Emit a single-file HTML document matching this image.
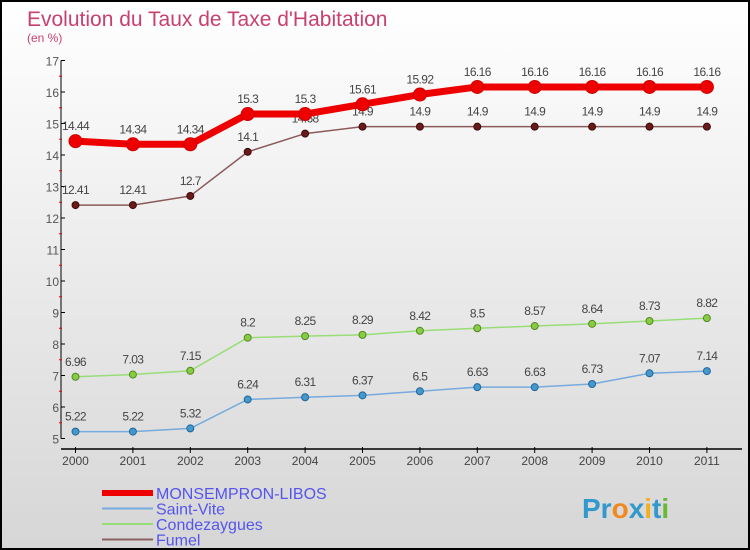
<!DOCTYPE html>
<html><head><meta charset="utf-8"><style>
html,body{margin:0;padding:0}
body{width:750px;height:550px;overflow:hidden;font-family:"Liberation Sans",sans-serif}
#wrap{position:relative;width:746px;height:546px;border:2px solid #000;background:linear-gradient(#ffffff,#d6d6d6)}
svg{position:absolute;left:0;top:0}
</style></head><body>
<div id="wrap">
<svg id="c" width="746" height="546">
<text x="25" y="24" font-size="21" fill="#c8406e">Evolution du Taux de Taxe d'Habitation</text>
<text x="25" y="40" font-size="12" fill="#c8406e">(en %)</text>
</svg>
</div>
<script>
const years=["2000","2001","2002","2003","2004","2005","2006","2007","2008","2009","2010","2011"];
const monsempron=[14.44,14.34,14.34,15.3,15.3,15.61,15.92,16.16,16.16,16.16,16.16,16.16];
const saintVite=[5.22,5.22,5.32,6.24,6.31,6.37,6.5,6.63,6.63,6.73,7.07,7.14];
const condezaygues=[6.96,7.03,7.15,8.2,8.25,8.29,8.42,8.5,8.57,8.64,8.73,8.82];
const fumel=[12.41,12.41,12.7,14.1,14.68,14.9,14.9,14.9,14.9,14.9,14.9,14.9];
const yTicks=[5,6,7,8,9,10,11,12,13,14,15,16,17];
const NS="http://www.w3.org/2000/svg";
const svg=document.getElementById('c');
const X=i=>73.5+i*57.4;
const Y=v=>436.5-(v-5)*31.5;
function mk(t,a,p){const e=document.createElementNS(NS,t);for(const k in a)e.setAttribute(k,a[k]);(p||svg).appendChild(e);return e;}
const ax=mk('g',{});


mk('line',{x1:59,y1:Y(17),x2:59,y2:Y(5),stroke:'#000','stroke-width':1},ax);
mk('line',{x1:59,y1:447,x2:740,y2:447,stroke:'#000','stroke-width':1.5},ax);
yTicks.forEach(v=>{
 mk('line',{x1:59,y1:Y(v),x2:63,y2:Y(v),stroke:'#000'},ax);
 if(v<17) mk('line',{x1:57,y1:Y(v+0.5),x2:60,y2:Y(v+0.5),stroke:'#e00'},ax);
 const t=mk('text',{x:57,y:Y(v)+5,'font-size':12,fill:'#555','text-anchor':'end'},ax);
 t.textContent=v;
 
 
});
years.forEach((y,i)=>{
 mk('line',{x1:X(i),y1:445,x2:X(i),y2:451,stroke:'#000'},ax);
 const t=mk('text',{x:X(i),y:463,'font-size':12,fill:'#444','text-anchor':'middle'},ax);
 t.textContent=y;
 
 
});
function series(name,data,color,lw,r,dot,dotStroke){
 const g=mk('g',{});
 
 
 mk('polyline',{points:data.map((v,i)=>X(i)+','+Y(v)).join(' '),fill:'none',stroke:color,'stroke-width':lw,'stroke-linejoin':'round'},g);
 data.forEach((v,i)=>{
  const c=mk('circle',{cx:X(i),cy:Y(v),r:r,fill:dot,stroke:dotStroke,'stroke-width':1},g);
  
  
  const t=mk('text',{x:X(i),y:Y(v)-11,'font-size':12,fill:'#444','text-anchor':'middle','letter-spacing':'-0.6'},g);
  t.textContent=v;
  
  
 });
}
series('fumel-series',fumel,'#8b5a5a',1.5,3.5,'#6b1a1a','#3a0a0a');
series('condezaygues-series',condezaygues,'#99dd77',1.5,3.5,'#88cc44','#558822');
series('saint-vite-series',saintVite,'#77aadd',1.5,3.5,'#4499cc','#226699');
series('monsempron-series',monsempron,'#ee0000',7,6.5,'#ee0000','#cc0000');
const legend=[["MONSEMPRON-LIBOS","#ee0000",6],["Saint-Vite","#77aadd",2],["Condezaygues","#99dd77",2],["Fumel","#8b6060",2]];
legend.forEach((l,i)=>{
 const g=mk('g',{});
 
 
 const y=491+i*15.5;
 mk('line',{x1:100,y1:y,x2:151,y2:y,stroke:l[1],'stroke-width':l[2]},g);
 const t=mk('text',{x:154,y:y+6,'font-size':16,fill:'#5555ee'},g);
 t.textContent=l[0];
});
const lg=mk('text',{x:580,y:516,'font-size':28,'font-weight':'bold',fill:'#3399cc'});


lg.innerHTML='Pr<tspan fill="#f08a20">o</tspan>x<tspan fill="#f0b020">i</tspan>t<tspan fill="#66bb33">i</tspan>';
</script>
</body></html>
